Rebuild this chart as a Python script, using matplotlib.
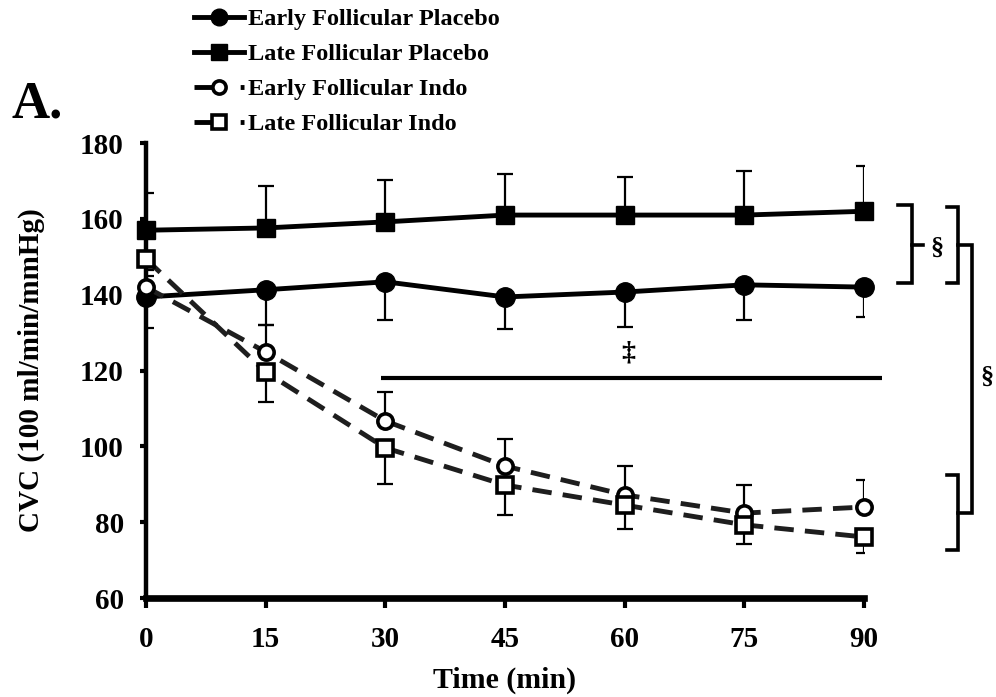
import matplotlib
matplotlib.use("Agg")
import matplotlib.pyplot as plt
from matplotlib.lines import Line2D

plt.rcParams["font.family"] = ["Liberation Serif", "DejaVu Serif"]
plt.rcParams["font.weight"] = "bold"

# Time points (min)
time_min = [0, 15, 30, 45, 60, 75, 90]
x_ticks = [0, 15, 30, 45, 60, 75, 90]
y_ticks = [60, 80, 100, 120, 140, 160, 180]

# Cutaneous vascular conductance, means
early_placebo = [139.4, 141.3, 143.4, 139.4, 140.7, 142.6, 142.0]
late_placebo = [157.0, 157.6, 159.2, 161.0, 161.0, 161.0, 162.0]
early_indo = [142.0, 124.9, 106.7, 94.8, 87.2, 82.4, 84.0]
late_indo = [149.4, 119.6, 99.6, 89.8, 84.5, 79.3, 76.1]

# One-sided error bars (SE)
early_placebo_err = [8.2, 9.3, 10.0, 8.4, 9.2, 9.2, 7.8]      # downward
late_placebo_err = [9.9, 11.1, 11.1, 10.9, 10.0, 11.6, 12.0]  # upward
early_indo_err = [3.0, 7.1, 7.7, 7.2, 7.6, 7.4, 7.1]          # upward
late_indo_err = [3.0, 7.9, 9.6, 7.9, 6.3, 5.1, 4.2]           # downward

labels = ["Early Follicular Placebo", "Late Follicular Placebo",
          "Early Follicular Indo", "Late Follicular Indo"]

fig = plt.figure(figsize=(9.96, 6.97), dpi=100)
ax = fig.add_axes([0.1466, 0.142, 0.7209, 0.6528])

zeros = [0] * len(time_min)
err_kw = dict(fmt="none", ecolor="black", elinewidth=1.6, capsize=6,
              capthick=1.6, zorder=2)
ax.errorbar(time_min, early_placebo, yerr=[early_placebo_err, zeros], **err_kw)
ax.errorbar(time_min, late_placebo, yerr=[zeros, late_placebo_err], **err_kw)
ax.errorbar(time_min, early_indo, yerr=[zeros, early_indo_err], **err_kw)
ax.errorbar(time_min, late_indo, yerr=[late_indo_err, zeros], **err_kw)

LW = 3.5
solid = dict(color="black", lw=LW, zorder=3, clip_on=False)
dashed = dict(color="#1e1e1e", lw=LW, ls=(0, (4.0, 2.3)), zorder=3,
              clip_on=False)
ax.plot(time_min, early_placebo, marker="o", ms=14, mfc="black", mec="black",
        **solid)
ax.plot(time_min, late_placebo, marker="s", ms=13, mfc="black", mec="black",
        **solid)
ax.plot(time_min, early_indo, marker="o", ms=11, mfc="white", mec="black",
        mew=2.6, **dashed)
ax.plot(time_min, late_indo, marker="s", ms=11, mfc="white", mec="black",
        mew=2.6, **dashed)

ax.set_xlim(0, 90)
ax.set_ylim(60, 180)
ax.set_xticks(x_ticks)
ax.set_yticks(y_ticks)
ax.tick_params(axis="x", direction="out", length=7, width=3, pad=13,
               labelsize=21)
ax.tick_params(axis="y", direction="out", length=4, width=3, pad=12,
               labelsize=21)
for lab in ax.get_xticklabels() + ax.get_yticklabels():
    lab.set_fontweight("bold")

for side in ("top", "right"):
    ax.spines[side].set_visible(False)
ax.spines["left"].set_linewidth(3.2)
ax.spines["bottom"].set_linewidth(4.8)

ax.set_xlabel("Time (min)", fontsize=21.5, fontweight="bold", labelpad=10)
ax.set_ylabel("CVC (100 ml/min/mmHg)", fontsize=21, fontweight="bold",
              labelpad=25)

# Significance markers
line_kw = dict(color="black", lw=3, clip_on=False, solid_capstyle="butt")
ax.plot([29.5, 92.3], [118.0, 118.0], **line_kw)
ax.text(60.4, 124.6, "\u2021", ha="center", va="center", fontsize=20,
        fontweight="bold")

bk = dict(color="black", lw=2.6, clip_on=False, solid_joinstyle="miter")
# Early vs late placebo bracket
ax.plot([94.3, 96.0, 96.0, 94.3], [163.6, 163.6, 143.1, 143.1], **bk)
ax.plot([96.0, 97.4], [153.2, 153.2], **bk)
ax.text(99.2, 152.2, "\u00a7", ha="center", va="center", fontsize=19,
        fontweight="bold")
# Placebo vs indo bracket
ax.plot([100.4, 101.8, 101.8, 100.4], [163.1, 163.1, 143.1, 143.1], **bk)
ax.plot([100.4, 101.8, 101.8, 100.4], [92.4, 92.4, 72.7, 72.7], **bk)
ax.plot([101.8, 103.5, 103.5, 101.8], [153.2, 153.2, 82.4, 82.4], **bk)
ax.text(105.4, 118.3, "\u00a7", ha="center", va="center", fontsize=19,
        fontweight="bold")

fig.text(0.012, 0.832, "A.", fontsize=38, fontweight="bold", ha="left",
         va="baseline")

# Legend proxies: indo handles show a short dash, the marker and a dot
leg_dash = (0, (3.6, 5.9, 0.82, 5))
handles = [
    Line2D([], [], color="black", lw=LW, marker="o", ms=12, mfc="black",
           mec="black"),
    Line2D([], [], color="black", lw=LW, marker="s", ms=11.5, mfc="black",
           mec="black"),
    Line2D([], [], color="black", lw=LW, ls=leg_dash, marker="o", ms=9.5,
           mfc="white", mec="black", mew=2.6),
    Line2D([], [], color="black", lw=LW, ls=leg_dash, marker="s", ms=9.5,
           mfc="white", mec="black", mew=2.6),
]
leg = fig.legend(handles, labels, loc="upper left",
                 bbox_to_anchor=(0.1948, 0.988), frameon=False, fontsize=17.5,
                 handlelength=2.06, handletextpad=0.15, labelspacing=0.53,
                 borderpad=0, borderaxespad=0)
for t in leg.get_texts():
    t.set_fontweight("bold")

fig.savefig("out.png", dpi=100)
